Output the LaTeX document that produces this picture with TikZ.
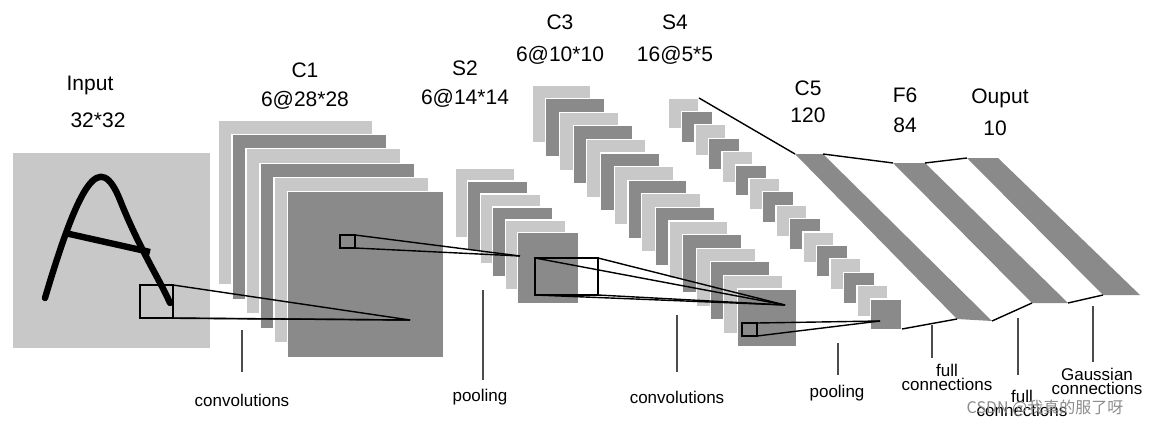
\documentclass[tikz,border=0pt]{standalone}
\usepackage{fontspec}
\setmainfont{Liberation Sans}
\newfontfamily\cjk{Noto Sans CJK SC}
\definecolor{lgray}{RGB}{200,200,200}
\definecolor{dgray}{RGB}{138,138,138}
\tikzset{
  ttl/.style={font=\fontsize{10.5}{12}\selectfont},
  lbl/.style={font=\fontsize{8.5}{9}\selectfont,align=center},
  tick/.style={black!70,line width=0.6pt},
  band/.style={fill=dgray,draw=none},
  link/.style={black,line width=0.7pt}
}
\begin{document}
\begin{tikzpicture}[x=0.5pt,y=-0.5pt]
\useasboundingbox (0,0) rectangle (1156,428);
% input
\fill [lgray] (13,153) rectangle (210,348);
\node [ttl] (tin) at (90,85) {Input};
\node [ttl] (tins) at (98,120) {32*32};
\draw [line width=3.2pt,line cap=round] (45,298) .. controls (80,180) and (100,150) .. (120,200) .. controls (140,250) and (160,280) .. (170,303);
\draw [line width=3.2pt] (65,233) -- (150,252);
% C1
\foreach \i in {0,...,5} {
  \ifodd\i \def\col{dgray}\else\def\col{lgray}\fi
  \fill [\col,draw=white,line width=0.6pt] (218+14*\i,120+14.4*\i) rectangle ++(155,165);
}
\fill [dgray] (288,192) rectangle (443,357);
\node [ttl] (tc1) at (305,70) {C1};
\node [ttl] (tc1s) at (305,100) {6@28*28};
% S2
\foreach \i in {0,...,5} {
  \ifodd\i \def\col{dgray}\else\def\col{lgray}\fi
  \fill [\col,draw=white,line width=0.6pt] (455+12.6*\i,168+13*\i) rectangle ++(60,70);
}
\fill [dgray] (518,233) rectangle (578,303);
\node [ttl] (ts2) at (465,68) {S2};
\node [ttl] (ts2s) at (465,98) {6@14*14};
% C3
\foreach \i in {0,...,15} {
  \ifodd\i \def\col{dgray}\else\def\col{lgray}\fi
  \fill [\col,draw=white,line width=0.6pt] (532+13.7*\i,85+13.6*\i) rectangle ++(59,58);
}
\node [ttl] (tc3) at (560,22) {C3};
\node [ttl] (tc3s) at (560,55) {6@10*10};
% S4
\foreach \i in {0,...,15} {
  \ifodd\i \def\col{dgray}\else\def\col{lgray}\fi
  \fill [\col,draw=white,line width=0.6pt] (668+13.5*\i,98+13.4*\i) rectangle ++(31,31);
}
\node [ttl] (ts4) at (675,22) {S4};
\node [ttl] (ts4s) at (675,55) {16@5*5};
% zoom boxes
\coordinate (c1p) at (410,320);
\coordinate (s2p) at (520,256);
\coordinate (c3p) at (785,305);
\coordinate (s4p) at (880,321);
\draw [link] (140,285) rectangle (173,318);
\draw [link] (140,318) -- (c1p);
\draw [link] (173,285) -- (c1p); \draw [link] (173,318) -- (c1p);
\draw [link] (340,235) rectangle (355,248);
\draw [link] (355,235) -- (s2p); \draw [link] (355,248) -- (s2p);
\draw [link] (535,258) rectangle (598,295);
\draw [link] (535,258) -- (c3p); \draw [link] (598,258) -- (c3p);
\draw [link] (535,295) -- (c3p); \draw [link] (598,295) -- (c3p);
\draw [link] (742,323) rectangle (757,336);
\draw [link] (757,323) -- (s4p); \draw [link] (757,336) -- (s4p);
% C5, F6, output
\fill [band] (795,154) -- (823,154) -- (992,321) -- (957,319) -- cycle;
\fill [band] (893,163) -- (925,163) -- (1068,303) -- (1032,303) -- cycle;
\fill [band] (967,158) -- (998,158) -- (1140,295) -- (1103,295) -- cycle;
\coordinate (c5tl) at (795,154); \coordinate (c5tr) at (823,154);
\coordinate (c5bl) at (957,319); \coordinate (c5br) at (992,321);
\coordinate (f6tl) at (893,163); \coordinate (f6tr) at (925,163);
\coordinate (f6bl) at (1032,303); \coordinate (f6br) at (1068,303);
\coordinate (outl) at (967,158); \coordinate (outbl) at (1103,295);
\draw [link] (699,98) -- (c5tl);
\draw [link] (902,329) -- (c5bl);
\draw [link] (c5tr) -- (f6tl); \draw [link] (f6tr) -- (outl);
\draw [link] (c5br) -- (f6bl); \draw [link] (f6br) -- (outbl);
\node [ttl] (tc5) at (808,88) {C5};
\node [ttl] (tc5s) at (808,115) {120};
\node [ttl] (tf6) at (905,95) {F6};
\node [ttl] (tf6s) at (905,125) {84};
\node [ttl] (tout) at (1000,98) {Ouput};
\node [ttl] (touts) at (995,128) {10};
% bottom labels
\node [lbl] (l1) at (242,400) {convolutions};
\draw [tick] (242,330) -- (242,372);
\node [lbl] (l2) at (480,397) {pooling};
\draw [tick] (483,290) -- (483,380);
\node [lbl] (l3) at (677,397) {convolutions};
\draw [tick] (677,315) -- (677,372);
\node [lbl] (l4) at (837,393) {pooling};
\draw [tick] (838,343) -- (838,375);
\node [lbl] (l5) at (947,377) {full\\[-2pt]connections};
\draw [tick] (932,325) -- (932,358);
\node [lbl] (l6) at (1022,403) {full\\[-2pt]connections};
\draw [tick] (1018,318) -- (1018,375);
\node [lbl] (l7) at (1097,381) {Gaussian\\[-2pt]connections};
\draw [tick] (1093,306) -- (1093,362);
\node [font=\fontsize{8}{9}\selectfont\cjk,text=black!45] (wm) at (1045,408) {CSDN @我真的服了呀};
\end{tikzpicture}
\end{document}
